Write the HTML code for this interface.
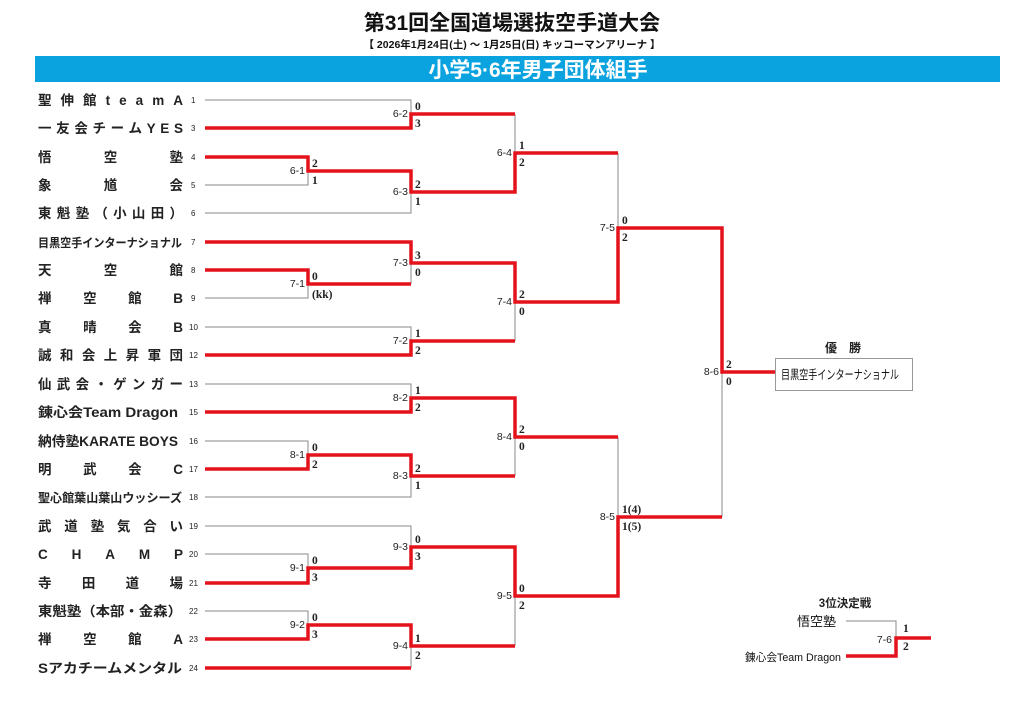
<!DOCTYPE html>
<html><head><meta charset="utf-8"><style>
body{margin:0;background:#fff}
svg{display:block;font-family:"Liberation Sans","Noto Sans CJK JP",sans-serif}
.n{font-size:13.5px;fill:#222;font-weight:bold}
.num{font-size:8px;fill:#222}
.s{font-size:11.5px;fill:#222;font-family:"Liberation Serif","Noto Serif CJK SC",serif;font-weight:bold}
.m{font-size:10.5px;fill:#222;text-anchor:end}
.r{stroke:#e3121b;stroke-width:3.5;fill:none}
.g{stroke:#8a8a8a;stroke-width:1;fill:none}
</style></head><body>
<svg width="1024" height="724" viewBox="0 0 1024 724">
<text x="512" y="30" text-anchor="middle" font-size="21" font-weight="bold" fill="#111">第31回全国道場選抜空手道大会</text>
<text x="512" y="48" text-anchor="middle" font-size="10.5" font-weight="bold" fill="#111">【 2026年1月24日(土) ～ 1月25日(日)  キッコーマンアリーナ 】</text>
<rect x="35" y="56" width="965" height="26" fill="#0aa3df"/>
<text x="538" y="77" text-anchor="middle" font-size="21" font-weight="bold" fill="#fff">小学5·6年男子団体組手</text>

<g class="n">
<text x="38" y="105" textLength="145" lengthAdjust="spacing">聖伸館teamA</text>
<text x="38" y="133" textLength="145" lengthAdjust="spacing">一友会チームYES</text>
<text x="38" y="162" textLength="145" lengthAdjust="spacing">悟空塾</text>
<text x="38" y="190" textLength="145" lengthAdjust="spacing">象馗会</text>
<text x="38" y="218" textLength="145" lengthAdjust="spacing">東魁塾（小山田）</text>
<text x="38" y="247" textLength="144" lengthAdjust="spacingAndGlyphs" font-size="12">目黒空手インターナショナル</text>
<text x="38" y="275" textLength="145" lengthAdjust="spacing">天空館</text>
<text x="38" y="303" textLength="145" lengthAdjust="spacing">禅空館B</text>
<text x="38" y="332" textLength="145" lengthAdjust="spacing">真晴会B</text>
<text x="38" y="360" textLength="145" lengthAdjust="spacing">誠和会上昇軍団</text>
<text x="38" y="389" textLength="145" lengthAdjust="spacing">仙武会・ゲンガー</text>
<text x="38" y="417" textLength="140" lengthAdjust="spacingAndGlyphs">錬心会Team Dragon</text>
<text x="38" y="446" textLength="140" lengthAdjust="spacingAndGlyphs">納侍塾KARATE BOYS</text>
<text x="38" y="474" textLength="145" lengthAdjust="spacing">明武会C</text>
<text x="38" y="502" textLength="144" lengthAdjust="spacingAndGlyphs" font-size="12">聖心館葉山葉山ウッシーズ</text>
<text x="38" y="531" textLength="145" lengthAdjust="spacing">武道塾気合い</text>
<text x="38" y="559" textLength="145" lengthAdjust="spacing">CHAMP</text>
<text x="38" y="588" textLength="145" lengthAdjust="spacing">寺田道場</text>
<text x="38" y="616" textLength="144" lengthAdjust="spacingAndGlyphs">東魁塾（本部・金森）</text>
<text x="38" y="644" textLength="145" lengthAdjust="spacing">禅空館A</text>
<text x="38" y="673" textLength="144" lengthAdjust="spacingAndGlyphs">Sアカチームメンタル</text>
</g>
<g class="num">
<text x="191" y="103">1</text><text x="191" y="131">3</text><text x="191" y="160">4</text><text x="191" y="188">5</text><text x="191" y="216">6</text><text x="191" y="245">7</text><text x="191" y="273">8</text><text x="191" y="301">9</text><text x="189" y="330">10</text><text x="189" y="358">12</text><text x="189" y="387">13</text><text x="189" y="415">15</text><text x="189" y="444">16</text><text x="189" y="472">17</text><text x="189" y="500">18</text><text x="189" y="529">19</text><text x="189" y="557">20</text><text x="189" y="586">21</text><text x="189" y="614">22</text><text x="189" y="642">23</text><text x="189" y="671">24</text>
</g>

<g class="g">
<path d="M205 100H411V128"/>
<path d="M205 185H308V157"/>
<path d="M205 213H411V171"/>
<path d="M205 298H308V270"/>
<path d="M411 242V284"/>
<path d="M205 327H411V355"/>
<path d="M205 384H411V412"/>
<path d="M205 441H308V469"/>
<path d="M205 497H411V455"/>
<path d="M205 526H411V568"/>
<path d="M205 554H308V583"/>
<path d="M205 611H308V639"/>
<path d="M411 625V668"/>
<path d="M515 114V192"/>
<path d="M515 263V341"/>
<path d="M515 398V476"/>
<path d="M515 547V646"/>
<path d="M618 153V302"/>
<path d="M618 437V596"/>
<path d="M722 228V517"/>
</g>
<g class="r">
<path d="M205 128H411V114H515"/>
<path d="M205 157H308V171H411V192H515V153H618"/>
<path d="M205 242H411V263H515V302H618V228H722V372H775"/>
<path d="M205 270H308V284H411"/>
<path d="M205 355H411V341H515"/>
<path d="M205 412H411V398H515V437H618"/>
<path d="M205 469H308V455H411V476H515"/>
<path d="M205 583H308V568H411V547H515V596H618V517H722"/>
<path d="M205 639H308V625H411V646H515"/>
<path d="M205 668H411"/>
</g>

<g class="m">
<text x="408" y="117">6-2</text><text x="305" y="174">6-1</text><text x="408" y="195">6-3</text><text x="512" y="156">6-4</text>
<text x="305" y="287">7-1</text><text x="408" y="266">7-3</text><text x="408" y="344">7-2</text><text x="512" y="305">7-4</text><text x="615" y="231">7-5</text>
<text x="408" y="401">8-2</text><text x="305" y="458">8-1</text><text x="408" y="479">8-3</text><text x="512" y="440">8-4</text>
<text x="305" y="571">9-1</text><text x="408" y="550">9-3</text><text x="305" y="628">9-2</text><text x="408" y="649">9-4</text><text x="512" y="599">9-5</text>
<text x="615" y="520">8-5</text><text x="719" y="375">8-6</text>
</g>
<g class="s">
<text x="415" y="110">0</text><text x="415" y="127">3</text>
<text x="312" y="167">2</text><text x="312" y="184">1</text>
<text x="415" y="188">2</text><text x="415" y="205">1</text>
<text x="519" y="149">1</text><text x="519" y="166">2</text>
<text x="312" y="280">0</text><text x="312" y="298">(kk)</text>
<text x="415" y="259">3</text><text x="415" y="276">0</text>
<text x="415" y="337">1</text><text x="415" y="354">2</text>
<text x="519" y="298">2</text><text x="519" y="315">0</text>
<text x="622" y="224">0</text><text x="622" y="241">2</text>
<text x="415" y="394">1</text><text x="415" y="411">2</text>
<text x="312" y="451">0</text><text x="312" y="468">2</text>
<text x="415" y="472">2</text><text x="415" y="489">1</text>
<text x="519" y="433">2</text><text x="519" y="450">0</text>
<text x="312" y="564">0</text><text x="312" y="581">3</text>
<text x="415" y="543">0</text><text x="415" y="560">3</text>
<text x="312" y="621">0</text><text x="312" y="638">3</text>
<text x="415" y="642">1</text><text x="415" y="659">2</text>
<text x="519" y="592">0</text><text x="519" y="609">2</text>
<text x="622" y="513">1(4)</text><text x="622" y="530">1(5)</text>
<text x="726" y="368">2</text><text x="726" y="385">0</text>
</g>

<text x="843" y="352" text-anchor="middle" font-size="12" font-weight="bold" fill="#222">優　勝</text>
<rect x="775.5" y="358.5" width="137" height="32" fill="#fff" stroke="#999"/>
<text x="781" y="379" font-size="12.5" fill="#111" textLength="118" lengthAdjust="spacingAndGlyphs">目黒空手インターナショナル</text>

<text x="845" y="607" text-anchor="middle" font-size="11.5" font-weight="bold" fill="#222">3位決定戦</text>
<text x="797" y="626" font-size="13" fill="#111">悟空塾</text>
<text x="745" y="661" font-size="11" fill="#111" textLength="96" lengthAdjust="spacingAndGlyphs">錬心会Team Dragon</text>
<path class="g" d="M846 621H896V656"/>
<path class="r" d="M846 656H896V638H931"/>
<text x="892" y="643" class="m">7-6</text>
<text x="903" y="632" class="s">1</text><text x="903" y="650" class="s">2</text>
</svg>
</body></html>
